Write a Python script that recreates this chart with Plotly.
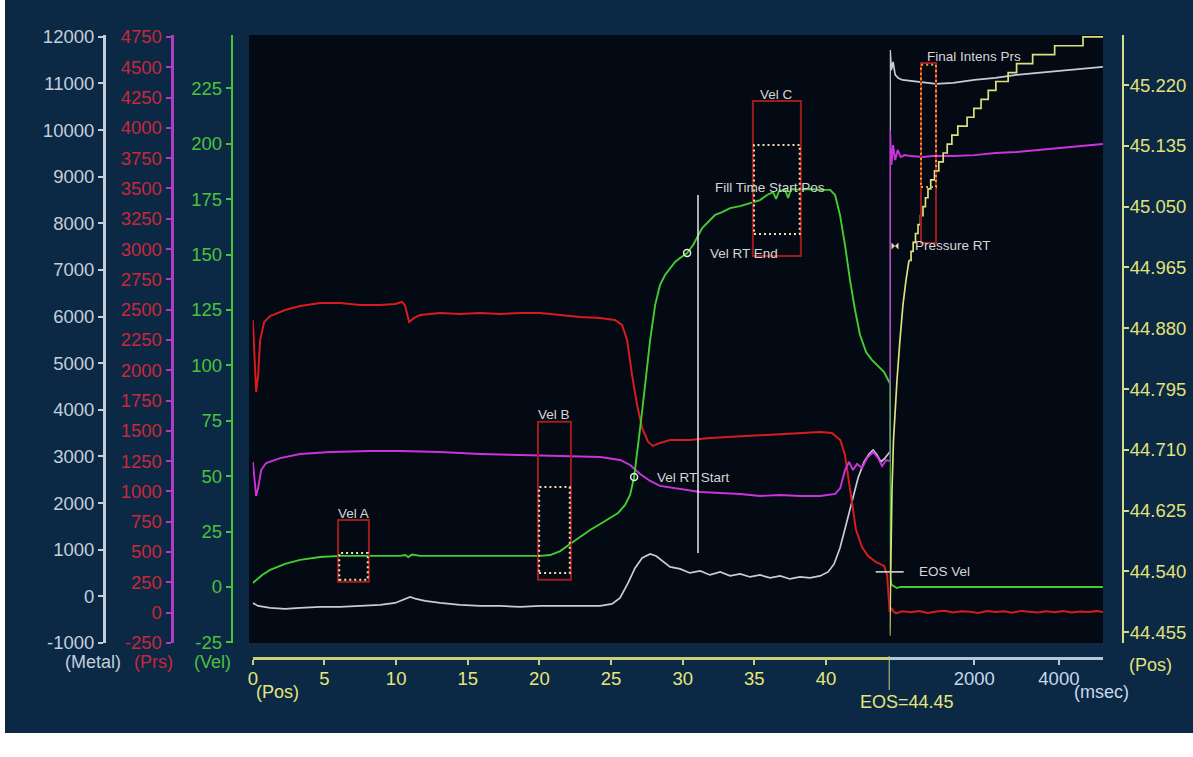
import plotly.graph_objects as go

W, H = 1193, 757

# ---------------- fill phase: x = plunger position (mm) ----------------
prs_a_pos = [0, 0.13, 0.23, 0.37, 0.51, 0.79, 1.21, 2.25, 3.30, 4.70,
             6.09, 7.49, 8.88, 9.93, 10.42, 10.63, 10.91, 11.26, 11.68, 13.07,
             14.47, 15.86, 17.26, 18.65, 20.05, 21.45, 22.84, 24.24, 25.28, 25.77,
             26.12, 26.47, 26.82, 27.17, 27.59, 27.93, 28.42, 29.12, 30.51, 31.91,
             33.31, 35.40, 37.49, 39.59, 40.42, 41.00, 41.33, 41.54, 41.82, 42.10,
             42.52, 42.94, 43.50, 44.06, 44.27, 44.41, 44.45]
prs_a = [2414, 2084, 1820, 1960, 2249, 2398, 2447, 2497, 2530, 2555,
         2555, 2538, 2538, 2546, 2563, 2530, 2398, 2431, 2455, 2472,
         2464, 2472, 2464, 2472, 2472, 2455, 2439, 2431, 2414, 2373,
         2249, 1960, 1713, 1523, 1408, 1375, 1400, 1424, 1424, 1441,
         1449, 1465, 1474, 1490, 1482, 1424, 1300, 1135, 888, 681,
         541, 467, 417, 385, 310, 104, 5]

prs_b_pos = [0, 0.13, 0.23, 0.37, 0.58, 0.93, 1.91, 3.30, 5.39, 8.18,
             10.28, 13.07, 15.86, 18.65, 21.45, 24.24, 25.63, 26.33, 27.03, 27.73,
             28.42, 29.82, 31.22, 32.62, 34.02, 35.41, 36.81, 38.21, 39.60, 40.65,
             41.00, 41.33, 41.61, 41.89, 42.17, 42.52, 42.87, 43.29, 43.64, 43.92,
             44.20, 44.45]
prs_b = [1243, 1094, 962, 1028, 1176, 1234, 1275, 1309, 1325, 1333,
         1333, 1325, 1309, 1300, 1292, 1284, 1259, 1218, 1143, 1086,
         1045, 1020, 995, 987, 979, 962, 970, 962, 962, 979,
         1028, 1176, 1243, 1176, 1226, 1193, 1275, 1325, 1275, 1209,
         1259, 1250]

metal_pos = [0, 0.37, 1.21, 2.25, 3.30, 4.70, 6.09, 7.49, 8.88, 9.93,
             10.49, 10.98, 11.40, 12.02, 13.07, 14.47, 15.86, 17.26, 18.65, 20.05,
             21.45, 22.84, 24.24, 25.07, 25.63, 26.19, 26.68, 27.17, 27.73, 28.15,
             28.64, 29.12, 29.82, 30.51, 31.22, 31.91, 32.62, 33.31, 34.01, 34.71,
             35.40, 36.10, 36.81, 37.49, 38.19, 38.89, 39.59, 40.15, 40.57, 40.98,
             41.40, 41.82, 42.24, 42.66, 43.01, 43.29, 43.57, 43.85, 44.13, 44.45]
metal = [-142, -206, -249, -270, -249, -227, -227, -206, -184, -142,
         -77, -13, -56, -99, -142, -184, -206, -206, -227, -206,
         -206, -206, -206, -163, -34, 287, 609, 824, 909, 866,
         738, 631, 588, 502, 545, 459, 523, 438, 480, 416,
         459, 395, 438, 373, 416, 395, 438, 523, 695, 1038,
         1531, 2067, 2539, 2883, 3054, 3140, 3033, 2883, 2968, 3097]

vel_pos = [0, 0.23, 0.65, 1.21, 2.25, 3.30, 4.70, 6.09, 8.18, 10.28,
           10.63, 10.84, 11.12, 11.68, 14.47, 17.26, 20.05, 20.75, 21.45, 22.14,
           22.84, 23.54, 24.24, 24.93, 25.49, 25.98, 26.33, 26.61, 26.82, 27.10,
           27.38, 27.73, 28.08, 28.42, 28.77, 29.12, 29.47, 29.82, 30.31, 30.73,
           31.01, 31.36, 31.78, 32.27, 32.76, 33.31, 34.01, 34.71, 35.40, 35.89,
           36.31, 36.52, 36.73, 37.15, 37.36, 37.57, 38.19, 38.89, 39.59, 40.29,
           40.64, 40.98, 41.33, 41.68, 42.03, 42.38, 42.80, 43.22, 43.64, 44.06,
           44.34, 44.45]
vel = [1.8, 3.2, 5.4, 7.7, 10.4, 12.2, 13.5, 14.0, 14.0, 14.0,
       14.4, 13.5, 14.6, 14.0, 14.0, 14.0, 14.0, 14.4, 16.2, 19.4,
       22.6, 25.7, 28.4, 31.1, 33.4, 37.0, 41.5, 49.6, 59.6, 75.4,
       91.2, 111.5, 127.3, 136.3, 140.8, 144.0, 146.7, 148.5, 150.7, 154.3,
       157.9, 162.0, 164.7, 167.9, 169.2, 171.0, 171.9, 173.3, 174.6, 176.9,
       178.2, 175.1, 178.7, 179.2, 175.6, 179.6, 179.2, 179.6, 179.2, 179.2,
       176.9, 167.9, 154.3, 138.5, 125.0, 113.7, 106.0, 102.4, 99.7, 97.0,
       93.4, 92.0]

# ---------------- intensification phase: x = time after EOS (msec) ----------------
prs_a_t = [0, 30, 80, 150, 300, 500, 700, 900, 1100, 1300,
           1500, 1700, 1900, 2100, 2300, 2500, 2700, 2900, 3100, 3300,
           3500, 3700, 3900, 4100, 4300, 4500, 4700, 4900, 5040]
prs_a_int = [5, 40, 12, -6, 10, 2, 12, -4, 8, 15,
             0, 11, 6, -3, 13, 4, 10, -2, 14, 7,
             0, 11, 3, 13, 1, 9, 5, 12, 4]

prs_b_t = [0, 8, 40, 80, 130, 190, 260, 350, 500, 800,
           1000, 1500, 2000, 2500, 3000, 3500, 4000, 4500, 5040]
prs_b_int = [1250, 3982, 3693, 3858, 3734, 3817, 3759, 3775, 3767, 3759,
             3767, 3767, 3775, 3792, 3800, 3817, 3833, 3850, 3866]

metal_t = [0, 10, 40, 80, 130, 200, 300, 500, 800, 1100,
           1500, 2000, 2500, 3000, 3500, 4000, 4500, 5040]
metal_int = [3097, 11719, 11290, 11463, 11183, 11119, 11076, 11054, 11033, 10990,
             11012, 11076, 11119, 11183, 11226, 11269, 11312, 11355]

vel_t = [0, 10, 40, 170, 250, 1000, 2000, 3000, 4000, 5040]
vel_int = [92.0, 5.0, 1.0, -0.5, 0, 0, 0, 0, 0, 0]

stroke_ramp_t = [0, 19, 54, 90, 125, 173, 243, 314, 385, 456]
stroke_ramp = [44.450, 44.542, 44.654, 44.724, 44.766, 44.808, 44.864, 44.913, 44.947, 44.975]
stroke_step_t = [456, 505, 555, 610, 670, 728, 787, 845, 905, 970,
                 1060, 1160, 1265, 1360, 1470, 1610, 1830, 1990, 2160, 2330,
                 2510, 2800, 3000, 3380, 3900, 4570, 5043]
stroke_step = [44.975, 44.9875, 45.000, 45.0125, 45.025, 45.0375, 45.050, 45.0625, 45.075, 45.0875,
               45.100, 45.1125, 45.125, 45.1375, 45.150, 45.1625, 45.175, 45.1875, 45.200, 45.2125,
               45.225, 45.2375, 45.250, 45.2625, 45.275, 45.2875, 45.2875]

EOS = 44.45

# ---------------- axis ticks ----------------
metal_ticks = [-1000, 0, 1000, 2000, 3000, 4000, 5000, 6000, 7000, 8000, 9000, 10000, 11000, 12000]
prs_ticks = [-250, 0, 250, 500, 750, 1000, 1250, 1500, 1750, 2000, 2250, 2500,
             2750, 3000, 3250, 3500, 3750, 4000, 4250, 4500, 4750]
vel_ticks = [-25, 0, 25, 50, 75, 100, 125, 150, 175, 200, 225]
stroke_ticks = [44.455, 44.540, 44.625, 44.710, 44.795, 44.880, 44.965, 45.050, 45.135, 45.220]
pos_ticks = [0, 5, 10, 15, 20, 25, 30, 35, 40]
time_ticks = [2000, 4000]

# ---------------- velocity limit windows (pos range, vel limits) ----------------
win_names = ["Vel A", "Vel B", "Vel C"]
win_pos_lo = [5.95, 19.9, 34.9]
win_pos_hi = [8.1, 22.2, 38.25]
win_outer_lo = [2.3, 3.2, 149.4]
win_outer_hi = [30.2, 74.5, 219.3]
win_inner_lo = [3.2, 6.3, 159.3]
win_inner_hi = [15.3, 45.1, 199.5]

# intensification pressure window (msec range, metal pressure limits)
intens_t = [740, 1095]
intens_outer = [7580, 11440]
intens_inner = [8780, 11400]

# ---------------- event markers ----------------
vel_rt_pos = [26.61, 30.31]
vel_rt_val = [49.6, 150.7]
vel_rt_names = ["Vel RT Start", "Vel RT End"]
fill_start_pos = 31.07
fill_start_span = [15.3, 176.9]
eos_vel = 6.8
press_rt_t = 125
press_rt_val = 7515

# ---------------- styling ----------------
FONT = "Liberation Sans, Arial, sans-serif"
TICK_SIZE = 18.5
NOTE_SIZE = 13.5
NAVY = "#0b2845"
PLOT_BG = "#040a14"
C_METAL_AX = "#c3cfdb"
C_PRS_LBL = "#c8283a"
C_PRS_LINE = "#b03cc0"
C_VEL = "#4cc23c"
C_STROKE_LINE = "#d6dc8c"
C_STROKE_LBL = "#e2e27a"
C_POS_LINE = "#c8cf78"
C_POS_LBL = "#e6e67c"
C_TIME_LINE = "#b4c8dc"
C_TIME_LBL = "#c8d8ea"
C_LABEL = "#d6d6d6"

C_RED = "#d61c1c"
C_MAG = "#cc33dd"
C_WHITE = "#c8ccd4"
C_GREEN = "#44cc33"
C_YELLOW = "#dce07e"
C_BOX = "#a01c1c"
C_DOT = "#f2dcb0"
C_DOT2 = "#e8a040"


def fx(px):
    return px / W


def fy(py):
    return 1 - py / H


fig = go.Figure()


def line(x, y, xa, ya, color, width=1.9, shape="linear"):
    fig.add_trace(go.Scatter(x=x, y=y, xaxis=xa, yaxis=ya, mode="lines",
                             line=dict(color=color, width=width, shape=shape),
                             hoverinfo="skip"))


# metal pressure
line(metal_pos, metal, "x", "y", C_WHITE, 1.7)
line(metal_t, metal_int, "x2", "y", C_WHITE, 1.7)
# hydraulic pressures
line(prs_a_pos, prs_a, "x", "y2", C_RED, 2)
line(prs_a_t, prs_a_int, "x2", "y2", C_RED, 2)
line(prs_b_pos, prs_b, "x", "y2", C_MAG)
line(prs_b_t, prs_b_int, "x2", "y2", C_MAG)
# velocity
line(vel_pos, vel, "x", "y3", C_GREEN)
line(vel_t, vel_int, "x2", "y3", C_GREEN)
# plunger stroke during intensification
line(stroke_ramp_t, stroke_ramp, "x2", "y4", C_YELLOW, 1.7)
line(stroke_step_t, stroke_step, "x2", "y4", C_YELLOW, 1.7, "hv")

# event markers
fig.add_trace(go.Scatter(x=vel_rt_pos, y=vel_rt_val, xaxis="x", yaxis="y3", mode="markers",
                         marker=dict(symbol="circle-open", size=7, color="#e4f0e4",
                                     line=dict(width=1.5)),
                         cliponaxis=False, hoverinfo="skip"))
fig.add_trace(go.Scatter(x=[EOS], y=[eos_vel], xaxis="x", yaxis="y3", mode="markers",
                         marker=dict(symbol="line-ew", size=20, color="#e0e0e0",
                                     line=dict(width=1.5, color="#e0e0e0")),
                         cliponaxis=False, hoverinfo="skip"))
fig.add_trace(go.Scatter(x=[press_rt_t], y=[press_rt_val], xaxis="x2", yaxis="y", mode="markers",
                         marker=dict(symbol="bowtie", size=7, color="#f0d8b0"),
                         cliponaxis=False, hoverinfo="skip"))

shapes = [
    dict(type="rect", xref="paper", yref="paper", x0=0, x1=fx(5), y0=0, y1=1,
         fillcolor="white", line=dict(width=0), layer="below"),
    dict(type="rect", xref="paper", yref="paper", x0=0, x1=1, y0=0, y1=fy(733),
         fillcolor="white", line=dict(width=0), layer="below"),
    dict(type="rect", xref="paper", yref="paper", x0=fx(249), x1=fx(1103), y0=fy(643), y1=fy(35),
         fillcolor=PLOT_BG, line=dict(width=0), layer="below"),
    dict(type="line", xref="x", yref="paper", x0=EOS, x1=EOS, y0=fy(690), y1=fy(656),
         line=dict(color=C_POS_LINE, width=2)),
    dict(type="line", xref="x", yref="y3", x0=fill_start_pos, x1=fill_start_pos,
         y0=fill_start_span[0], y1=fill_start_span[1], line=dict(color="#e8e8e8", width=1.5)),
]
annotations = []
for i, name in enumerate(win_names):
    shapes.append(dict(type="rect", xref="x", yref="y3", x0=win_pos_lo[i], x1=win_pos_hi[i],
                       y0=win_outer_lo[i], y1=win_outer_hi[i], line=dict(color=C_BOX, width=2)))
    shapes.append(dict(type="rect", xref="x", yref="y3", x0=win_pos_lo[i] + 0.08, x1=win_pos_hi[i] - 0.08,
                       y0=win_inner_lo[i], y1=win_inner_hi[i],
                       line=dict(color=C_DOT, width=2, dash="2px,3px")))
    annotations.append(dict(x=(win_pos_lo[i] + win_pos_hi[i]) / 2, y=win_outer_hi[i], xref="x", yref="y3",
                            text=name, showarrow=False, yanchor="middle", yshift=7,
                            font=dict(family=FONT, size=NOTE_SIZE, color=C_LABEL)))
shapes.append(dict(type="rect", xref="x2", yref="y", x0=intens_t[0], x1=intens_t[1],
                   y0=intens_outer[0], y1=intens_outer[1], line=dict(color=C_BOX, width=2)))
shapes.append(dict(type="rect", xref="x2", yref="y", x0=intens_t[0], x1=intens_t[1],
                   y0=intens_inner[0], y1=intens_inner[1],
                   line=dict(color=C_DOT2, width=2, dash="2px,3px")))
annotations.append(dict(x=intens_t[0], y=intens_outer[1], xref="x2", yref="y", text="Final Intens Prs",
                        showarrow=False, xanchor="left", yanchor="middle", yshift=6, xshift=4,
                        font=dict(family=FONT, size=NOTE_SIZE, color=C_LABEL)))

for name, xp, yv in zip(vel_rt_names, vel_rt_pos, vel_rt_val):
    annotations.append(dict(x=xp, y=yv, xref="x", yref="y3", text=name, showarrow=False,
                            xanchor="left", yanchor="middle", xshift=21,
                            font=dict(family=FONT, size=NOTE_SIZE, color=C_LABEL)))
annotations.append(dict(x=fill_start_pos, y=fill_start_span[1], xref="x", yref="y3",
                        text="Fill Time Start Pos", showarrow=False, xanchor="left",
                        yanchor="middle", xshift=15, yshift=7,
                        font=dict(family=FONT, size=NOTE_SIZE, color=C_LABEL)))
annotations.append(dict(x=EOS, y=eos_vel, xref="x", yref="y3", text="EOS Vel", showarrow=False,
                        xanchor="left", yanchor="middle", xshift=27,
                        font=dict(family=FONT, size=NOTE_SIZE, color=C_LABEL)))
annotations.append(dict(x=press_rt_t, y=press_rt_val, xref="x2", yref="y", text="Pressure RT",
                        showarrow=False, xanchor="left", yanchor="middle", xshift=18,
                        font=dict(family=FONT, size=NOTE_SIZE, color=C_LABEL)))


# axis captions
def caption(text, px, py, color, anchor="center"):
    annotations.append(dict(x=fx(px), y=fy(py), xref="paper", yref="paper", text=text,
                            showarrow=False, xanchor=anchor, yanchor="middle",
                            font=dict(family=FONT, size=18, color=color)))


caption("(Metal)", 93, 662, C_METAL_AX)
caption("(Prs)", 153, 662, C_PRS_LBL)
caption("(Vel)", 212, 662, C_VEL)
caption("(Pos)", 254, 692, C_POS_LBL, "left")
caption("(msec)", 1101, 692, C_TIME_LBL)
caption("(Pos)", 1150, 665, C_STROKE_LBL)
annotations.append(dict(x=EOS, y=fy(702), xref="x", yref="paper", text="EOS=44.45",
                        showarrow=False, xanchor="center", yanchor="middle", xshift=17,
                        font=dict(family=FONT, size=18, color=C_POS_LBL)))

dom_y = [fy(643), fy(35)]


def yax(rng, pos, ticks, text, line_c, lbl_c, lw=2.5, side="left", overlay=True, standoff=0):
    d = dict(domain=dom_y, range=rng, anchor="free", position=pos, side=side,
             tickmode="array", tickvals=ticks, ticktext=text, automargin=False,
             showgrid=False, zeroline=False, showline=True, linecolor=line_c, linewidth=lw,
             ticks="outside", ticklen=5, tickwidth=2, tickcolor=line_c,
             ticklabelstandoff=standoff,
             tickfont=dict(family=FONT, size=TICK_SIZE, color=lbl_c))
    if overlay:
        d["overlaying"] = "y"
    return d


layout = dict(
    width=W, height=H, autosize=False,
    margin=dict(l=0, r=0, t=0, b=0, pad=0, autoexpand=False),
    paper_bgcolor=NAVY, plot_bgcolor="rgba(0,0,0,0)",
    showlegend=False, shapes=shapes, annotations=annotations,
    xaxis=dict(domain=[fx(252.7), fx(889.7)], range=[-0.01, EOS], anchor="free", position=fy(658),
               tickmode="array", tickvals=pos_ticks, ticktext=[str(v) for v in pos_ticks],
               automargin=False, ticklabelstandoff=-2,
               showgrid=False, zeroline=False, showline=True, linecolor=C_POS_LINE, linewidth=2.5,
               ticks="outside", ticklen=5, tickwidth=2, tickcolor=C_POS_LINE,
               tickfont=dict(family=FONT, size=TICK_SIZE, color=C_POS_LBL)),
    xaxis2=dict(domain=[fx(889.7), fx(1103)], range=[0, 5043], anchor="free", position=fy(658),
                tickmode="array", tickvals=time_ticks, ticktext=[str(v) for v in time_ticks],
                automargin=False, ticklabelstandoff=-2,
                showgrid=False, zeroline=False, showline=True, linecolor=C_TIME_LINE, linewidth=2.5,
                ticks="outside", ticklen=5, tickwidth=2, tickcolor=C_TIME_LINE,
                tickfont=dict(family=FONT, size=TICK_SIZE, color=C_TIME_LBL)),
    yaxis=yax([-1001, 12040], fx(104), metal_ticks, [str(v) for v in metal_ticks],
              C_METAL_AX, C_METAL_AX, 3, overlay=False),
    yaxis2=yax([-251, 4766], fx(171.5), prs_ticks, [str(v) for v in prs_ticks],
               C_PRS_LINE, C_PRS_LBL, 3),
    yaxis3=yax([-25.3, 249.1], fx(231.7), vel_ticks, [str(v) for v in vel_ticks],
               C_VEL, C_VEL, 2),
    yaxis4=yax([44.440, 45.290], fx(1123), stroke_ticks, ["%.3f" % v for v in stroke_ticks],
               C_STROKE_LINE, C_STROKE_LBL, 2, side="right", standoff=-3),
)
fig.update_layout(**layout)

fig.write_html("out.html", config={"displayModeBar": False})
